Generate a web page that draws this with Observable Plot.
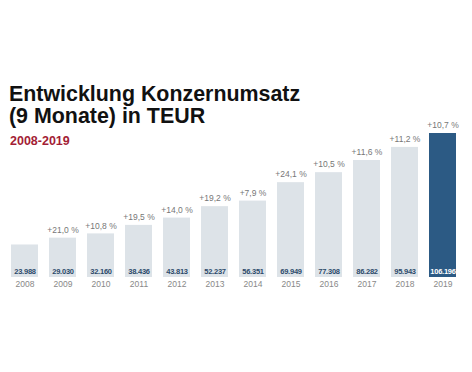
<!DOCTYPE html>
<html>
<head>
<meta charset="utf-8">
<script src="https://cdn.jsdelivr.net/npm/d3@7"></script>
<script src="https://cdn.jsdelivr.net/npm/@observablehq/plot@0.6"></script>
<style>
  html, body { margin: 0; padding: 0; background: #fff; }
  #wrap { position: relative; width: 472px; height: 372px; overflow: hidden; font-family: "Liberation Sans", Arial, sans-serif; }
  #title { position: absolute; left: 9px; top: 83px; font-size: 21.4px; font-weight: bold; line-height: 22px; color: #111; }
  #subtitle { position: absolute; left: 10px; top: 134px; font-size: 12.5px; font-weight: bold; color: #a31d35; }
  #chart { position: absolute; left: 0; top: 120px; }
  #chart .vals text { letter-spacing: -0.25px; }
</style>
</head>
<body>
<div id="wrap">
  <div id="title">Entwicklung Konzernumsatz<br>(9 Monate) in TEUR</div>
  <div id="subtitle">2008-2019</div>
  <div id="chart"></div>
</div>
<script>
const years = ["2008","2009","2010","2011","2012","2013","2014","2015","2016","2017","2018","2019"];
const revenue = [23988, 29030, 32160, 38436, 43813, 52237, 56351, 69949, 77308, 86282, 95943, 106196];
const growth = ["", "+21,0 %", "+10,8 %", "+19,5 %", "+14,0 %", "+19,2 %", "+7,9 %", "+24,1 %", "+10,5 %", "+11,6 %", "+11,2 %", "+10,7 %"];

const de = d3.formatLocale({decimal: ",", thousands: ".", grouping: [3], currency: ["", " €"]});
const fmt = de.format(",d");

const data = years.map((y, i) => ({year: y, value: revenue[i], growth: growth[i], last: i === years.length - 1}));

const chart = Plot.plot({
  width: 472,
  height: 180,
  marginLeft: 10,
  marginRight: 16,
  marginTop: 13,
  marginBottom: 23,
  style: {fontFamily: "'Liberation Sans', Arial, sans-serif", background: "transparent"},
  x: {domain: years, paddingInner: 0.29, paddingOuter: 0, axis: null},
  y: {domain: [0, 106196], axis: null},
  marks: [
    Plot.barY(data, {x: "year", y: "value", fill: d => d.last ? "#2c5a84" : "#dde3e8"}),
    Plot.text(data, {x: "year", y: "value", text: "growth", dy: -8, fontSize: 8.5, fill: "#777"}),
    Plot.text(data, {x: "year", y: 0, text: d => fmt(d.value), dy: -6, fontSize: 7.5, fontWeight: "bold", fill: d => d.last ? "#ffffff" : "#2c4a6a", className: "vals"}),
    Plot.text(data, {x: "year", y: 0, text: "year", dy: 7, fontSize: 8.5, fill: "#888"})
  ]
});
document.getElementById("chart").appendChild(chart);
</script>
</body>
</html>
